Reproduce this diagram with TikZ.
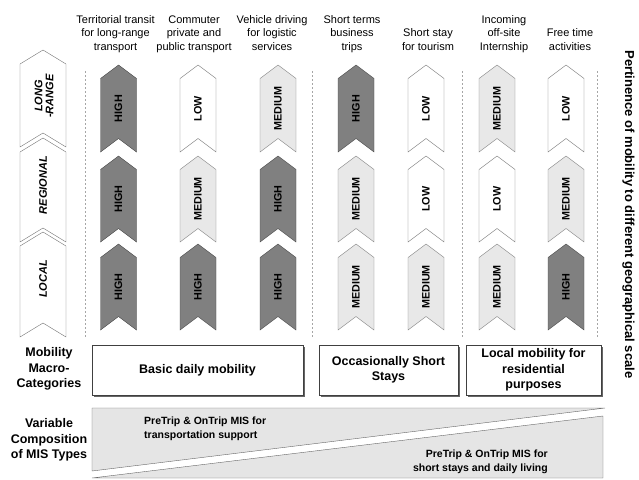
\documentclass[tikz,border=0pt]{standalone}
\usepackage{fontspec}
\setmainfont{Liberation Sans}
\usetikzlibrary{shadows}

% chevron pointing up: style, centre x, apex y, bottom y, half width, notch depth
\newcommand\drawchevron[6]{%
  \path[#1] (#2-#5,#3+#6) -- (#2,#3) -- (#2+#5,#3+#6) -- (#2+#5,#4)
            -- (#2,#4-#6) -- (#2-#5,#4) -- cycle;}

\begin{document}
\begin{tikzpicture}[x=1pt,y=-1pt,
  hdr/.style={font=\fontsize{11}{13.5}\selectfont, align=center, anchor=south,
              inner sep=0pt, text depth=0pt},
  lvl/.style={font=\fontsize{10.8}{12}\selectfont\bfseries, rotate=90, inner sep=0pt},
  geolbl/.style={font=\fontsize{11}{11}\selectfont\bfseries\itshape, rotate=90,
                 align=center, inner sep=0pt},
  high/.style={fill=black!50, draw=black!72},
  medium/.style={fill=black!9, draw=black!50},
  low/.style={fill=white, draw=black!55},
  geo/.style={fill=white, draw=black!55},
  sep/.style={draw=black!35, dash pattern=on 2pt off 2pt},
  catbox/.style={draw=black!75, fill=white, inner sep=0pt, align=center,
                 minimum height=50pt,
                 font=\fontsize{12.5}{15.5}\selectfont\bfseries,
                 drop shadow={shadow xshift=1.5pt, shadow yshift=-1.5pt,
                              fill=black!60, opacity=1}},
  sidelbl/.style={font=\fontsize{12.5}{15.5}\selectfont\bfseries, align=center,
                  inner sep=0pt},
  mis/.style={fill=black!10, draw=black!60},
  mistxt/.style={font=\fontsize{10.5}{14}\selectfont\bfseries, inner sep=0pt}
]
\useasboundingbox (0,0) rectangle (639,479);

% column headings
\node[hdr] (h1) at (115.5,50.5) {Territorial transit\\for long-range\\transport};
\node[hdr] (h2) at (194,50.5) {Commuter\\private and\\public transport};
\node[hdr] (h3) at (272,50.5) {Vehicle driving\\for logistic\\services};
\node[hdr] (h4) at (352,50.5) {Short terms\\business\\trips};
\node[hdr] (h5) at (428,50.5) {Short stay\\for tourism};
\node[hdr] (h6) at (504,50.5) {Incoming\\off-site\\Internship};
\node[hdr] (h7) at (570,50.5) {Free time\\activities};

% group separators
\foreach \sx [count=\i] in {85,312,462,597}
  \draw[sep] (\sx,71) coordinate (s\i top) -- (\sx,337) coordinate (s\i bot);

% geographical scales
\drawchevron{geo}{43}{50}{147}{23}{14}
\drawchevron{geo}{43}{138}{242}{23}{14}
\drawchevron{geo}{43}{232}{337}{23}{14}
\node[geolbl] (g1) at (44,96) {LONG\\-RANGE};
\node[geolbl] (g2) at (43,185) {REGIONAL};
\node[geolbl] (g3) at (43,279) {LOCAL};

% pertinence levels, long-range row
\foreach \cx/\lv/\txt [count=\c] in {118.5/high/HIGH, 198/low/LOW, 278/medium/MEDIUM,
    356/high/HIGH, 426/low/LOW, 497/medium/MEDIUM, 566/low/LOW}{
  \drawchevron{\lv}{\cx}{65}{152}{18}{13.5}
  \node[lvl] (a\c) at (\cx,108.5) {\txt};
}
% regional row
\foreach \cx/\lv/\txt [count=\c] in {118.5/high/HIGH, 198/medium/MEDIUM, 278/high/HIGH,
    356/medium/MEDIUM, 426/low/LOW, 497/low/LOW, 566/medium/MEDIUM}{
  \drawchevron{\lv}{\cx}{156}{242}{18}{13.5}
  \node[lvl] (b\c) at (\cx,199) {\txt};
}
% local row
\foreach \cx/\lv/\txt [count=\c] in {118.5/high/HIGH, 198/high/HIGH, 278/high/HIGH,
    356/medium/MEDIUM, 426/medium/MEDIUM, 497/medium/MEDIUM, 566/high/HIGH}{
  \drawchevron{\lv}{\cx}{244}{330}{18}{13.5}
  \node[lvl] (c\c) at (\cx,287) {\txt};
}

% axis title
\node[font=\fontsize{13}{15}\selectfont\bfseries, rotate=-90, inner sep=0pt] (axis)
  at (628.5,214.5) {Pertinence of mobility to different geographical scale};

% macro-categories
\node[sidelbl] (mmc) at (49,369) {Mobility\\Macro-\\Categories};
\node[catbox, minimum width=211pt] (k1) at (197.5,370) {Basic daily mobility};
\node[catbox, minimum width=139pt] (k2) at (388.5,370) {Occasionally Short\\Stays};
\node[catbox, minimum width=135pt] (k3) at (533.5,370) {Local mobility for\\residential\\purposes};

% MIS composition
\node[sidelbl] (vc) at (49,440) {Variable\\Composition\\of MIS Types};
\draw[mis] (92,408) -- (605,408) -- (92,471) -- cycle;
\draw[mis] (92,478) -- (603,416) -- (603,478) -- cycle;
\node[mistxt, anchor=west, align=left] (m1) at (144,429)
  {PreTrip \& OnTrip MIS for\\transportation support};
\node[mistxt, anchor=east, align=right] (m2) at (548,461.7)
  {PreTrip \& OnTrip MIS for\\short stays and daily living};
\end{tikzpicture}
\end{document}
